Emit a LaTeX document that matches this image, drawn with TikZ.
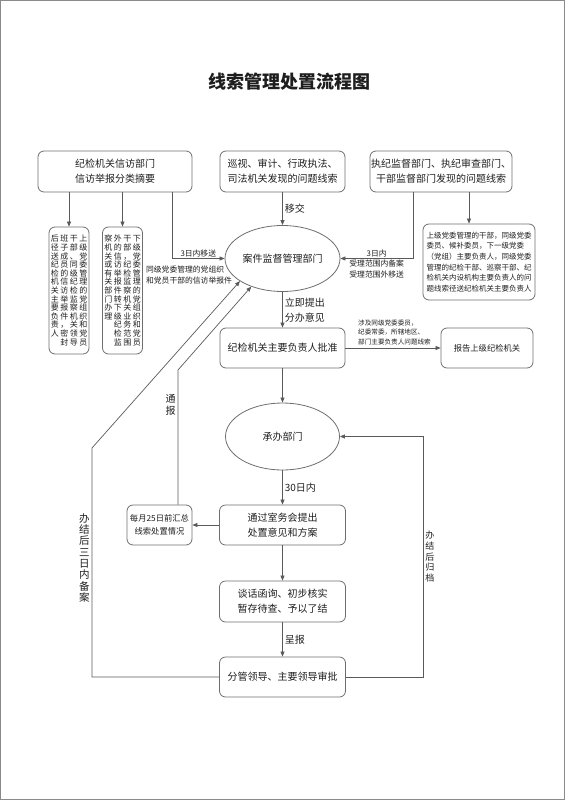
\documentclass[tikz,border=0pt]{standalone}
\usepackage{fontspec}
\setmainfont{Noto Sans CJK SC}
\usetikzlibrary{arrows.meta,shapes.geometric}
\definecolor{ln}{HTML}{5a5a5a}
\definecolor{bd}{HTML}{6e6e6e}
\definecolor{tx}{HTML}{1e1e1e}
\definecolor{fr}{HTML}{8a8a8a}

% one column of characters, read top to bottom
\newcommand\vcol[2][8.6pt]{\vtop{\baselineskip=#1\relax\lineskiplimit=-20pt\vcolchars#2\relax}}
\def\vcolchars#1{\ifx#1\relax\else\hbox{#1}\expandafter\vcolchars\fi}

\begin{document}
\begin{tikzpicture}[x=1pt,y=-1pt,
  box/.style={draw=bd,line width=0.8pt,rounded corners=6pt,align=center,inner sep=1pt,text=tx,font=\fontsize{10}{15}\selectfont},
  vbox/.style={box,minimum width=40,minimum height=127,font=\fontsize{8}{8}\selectfont},
  oval/.style={ellipse,draw=bd,line width=0.8pt,inner sep=0pt,text=tx,font=\fontsize{10}{12}\selectfont},
  arr/.style={draw=ln,line width=0.7pt,-{Triangle[length=5pt,width=4pt]}},
  lbl/.style={text=tx,font=\fontsize{10}{15}\selectfont,inner sep=2pt},
  small/.style={text=tx,font=\fontsize{7.8}{11}\selectfont,inner sep=1pt,align=left},
  tiny/.style={text=tx,font=\fontsize{6.6}{9.5}\selectfont,inner sep=1pt,align=left}]
  \useasboundingbox (0,0) rectangle (565,800);
  \draw[fr,line width=1pt] (0.5,0.5) rectangle (564.5,799.5);

  \node[text=tx,font=\fontsize{18}{18}\selectfont\bfseries] (title) at (289,82) {线索管理处置流程图};

  % sources
  \node[box,minimum width=154,minimum height=41] (src1) at (115,171.5) {纪检机关信访部门\\信访举报分类摘要};
  \node[box,minimum width=125,minimum height=41] (src2) at (282.5,171.5) {巡视、审计、行政执法、\\司法机关发现的问题线索};
  \node[box,minimum width=142,minimum height=41] (src3) at (441,171.5) {执纪监督部门、执纪审查部门、\\干部监督部门发现的问题线索};

  \node[vbox] (up) at (69,290.5) {\hbox{\vcol{后径送纪检机关主要负责人}\hskip1.5pt\vcol{班子成员的信访举报件，密封}\hskip1.5pt\vcol{干部、同级纪检监察机关领导}\hskip1.5pt\vcol{上级党委管理的党组织和党员}}};
  \node[vbox] (down) at (122.5,290.5) {\hbox{\vcol{察机关或有关部门办理}\hskip1.5pt\vcol{外的信访举报件转下级纪检监}\hskip1.5pt\vcol{干部，纪检监察机关业务范围}\hskip1.5pt\vcol{下级党委管理的党组织和党员}}};

  \node[oval,minimum width=115,minimum height=66] (case) at (282.5,258.5) {案件监督管理部门};
  \node[box,minimum width=112,minimum height=76,font=\fontsize{7.5}{10.7}\selectfont,align=left] (direct) at (479,262) {上级党委管理的干部，同级党委\\委员、候补委员，下一级党委\\（党组）主要负责人，同级党委\\管理的纪检干部、巡察干部、纪\\检机关内设机构主要负责人的问\\题线索径送纪检机关主要负责人};

  % main column
  \node[box,minimum width=125,minimum height=40] (approve) at (282.5,348) {纪检机关主要负责人批准};
  \node[box,minimum width=92,minimum height=40,font=\fontsize{8.3}{10}\selectfont] (report) at (487,348) {报告上级纪检机关};
  \node[oval,minimum width=114,minimum height=67] (handle) at (282.5,436.5) {承办部门};
  \node[box,minimum width=126,minimum height=40] (plan) at (282.5,525) {通过室务会提出\\处置意见和方案};
  \node[box,minimum width=65,minimum height=40,font=\fontsize{8.3}{13}\selectfont] (summary) at (159.5,525) {每月25日前汇总\\线索处置情况};
  \node[box,minimum width=126,minimum height=41] (verify) at (282.5,601.5) {谈话函询、初步核实\\暂存待查、予以了结};
  \node[box,minimum width=126,minimum height=40] (sign) at (282.5,677) {分管领导、主要领导审批};

  \coordinate (a3) at ([xshift=57pt]src1.south);
  \coordinate (c1) at ([xshift=-28pt]src3.south);
  \coordinate (c2) at ([xshift=28pt]src3.south);
  \coordinate (bend1) at (92,448);
  \coordinate (bend2) at (178,370);
  \coordinate (jr) at ([xshift=77pt]sign.east);

  % connectors
  \draw[arr] (up.north |- src1.south) -- (up.north);
  \draw[arr] (down.north |- src1.south) -- (down.north);
  \draw[arr] (a3) |- node[small,above,pos=0.75] {3日内移送} (case.west);
  \node[small] (jibao) at (189,275) {同级党委管理的党组织\\和党员干部的信访举报件};
  \draw[arr] (src2) -- node[lbl,right] {移交} (case);
  \draw[arr] (c1) |- node[small,above,pos=0.75] {3日内} node[small,below,pos=0.75] {受理范围内备案\\受理范围外移送} (case.east);
  \draw[arr] (c2) -- (c2 |- direct.north);
  \draw[arr] (case) -- node[lbl,right,align=left] {立即提出\\分办意见} (approve);
  \draw[arr] (approve) -- (report);
  \node[tiny,anchor=south west] (upper) at (357,346) {涉及同级党委委员，\\纪委常委，所辖地区、\\部门主要负责人问题线索};
  \draw[arr] (approve) -- (handle);
  \draw[arr] (handle) -- node[lbl,right] {30日内} (plan);
  \draw[arr] (plan) -- (summary);
  \draw[arr] (plan) -- (verify);
  \draw[arr] (verify) -- node[lbl,right] {呈报} (sign);
  \draw[arr] (sign.east) -- (jr) |- node[lbl,right,pos=0.25,font=\fontsize{9}{10}\selectfont] {\vcol[10.6pt]{办结后归档}} (handle.east);
  \draw[arr] (sign.west) -| node[lbl,left,pos=0.76,font=\fontsize{10.5}{11}\selectfont] {\vcol[11.3pt]{办结后三日内备案}} (bend1) -- (case.208);
  \draw[arr] (bend2 |- summary.north) -- node[lbl,left,pos=0.74] {\vcol[12pt]{通报}} (bend2) -- (case.222);
\end{tikzpicture}
\end{document}
